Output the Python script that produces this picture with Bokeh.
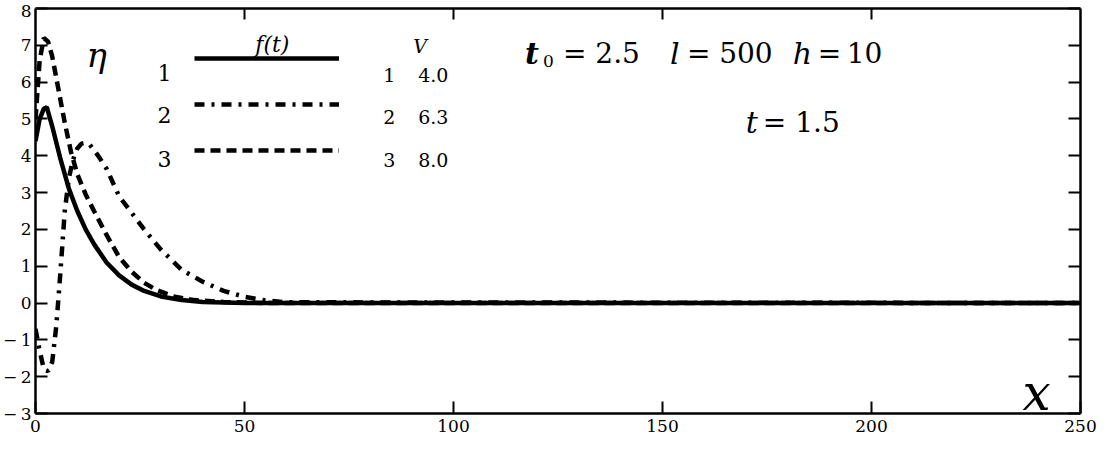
from bokeh.plotting import figure
from bokeh.models import LinearAxis, FixedTicker, Label, Legend, LegendItem, Range1d
from bokeh.core.properties import value
from bokeh.embed import file_html
from bokeh.resources import INLINE

# ---- data ----
x_curve1 = [0, 1, 2, 2.7, 4, 6, 8, 10, 12, 14, 17, 20, 23, 26, 30, 35, 40, 50, 250]
y_curve1 = [4.4, 5.0, 5.28, 5.32, 4.8, 3.9, 3.1, 2.5, 2.0, 1.6, 1.1, 0.75, 0.5, 0.33, 0.18, 0.08, 0.03, 0.0, 0.0]

x_curve2 = [0, 1, 2, 3, 4, 5, 6, 7, 8, 9, 10, 11, 12, 13, 15, 17, 20, 23, 26, 30, 35, 40, 45, 50, 55, 60, 250]
y_curve2 = [-0.7, -1.3, -1.8, -1.85, -1.6, -0.6, 0.9, 2.5, 3.4, 3.9, 4.2, 4.33, 4.35, 4.3, 4.0, 3.65, 2.9, 2.45, 2.0, 1.45, 0.9, 0.58, 0.33, 0.17, 0.07, 0.02, 0.0]

x_curve3 = [0, 1, 2, 3, 4, 5, 6, 7, 8.5, 10, 12, 14, 17, 20, 23, 26, 29, 33, 38, 45, 55, 250]
y_curve3 = [5.0, 6.6, 7.2, 7.1, 6.7, 6.1, 5.5, 4.9, 4.1, 3.5, 2.95, 2.5, 1.85, 1.25, 0.85, 0.55, 0.35, 0.18, 0.08, 0.03, 0.0, 0.0]

curve_ids = ["1", "2", "3"]
speeds = ["4.0", "6.3", "8.0"]
x_ticks = [0, 50, 100, 150, 200, 250]
y_ticks = [-3, -2, -1, 0, 1, 2, 3, 4, 5, 6, 7, 8]

SERIF = "DejaVu Serif"

p = figure(width=1100, height=443, output_backend="svg", toolbar_location=None,
           x_range=Range1d(0, 250), y_range=Range1d(-3, 8),
           x_axis_type=None, y_axis_type=None,
           min_border_left=34, min_border_right=20, min_border_top=8, min_border_bottom=30)
p.xgrid.visible = False
p.ygrid.visible = False
p.outline_line_color = None
p.background_fill_color = "white"
p.border_fill_color = "white"


def style_axis(ax, ticks, tick_len, labels=True):
    ax.ticker = FixedTicker(ticks=ticks)
    ax.axis_line_width = 2.5
    ax.axis_line_color = "black"
    ax.major_tick_in = tick_len
    ax.major_tick_out = 0
    ax.major_tick_line_width = 2
    ax.major_tick_line_color = "black"
    ax.minor_tick_line_color = None
    if labels:
        ax.major_label_text_font = SERIF
        ax.major_label_text_font_size = "17px"
        ax.major_label_text_color = "black"
    else:
        ax.major_label_overrides = {t: "" for t in ticks}
        ax.major_label_text_font_size = "1px"
        ax.major_label_text_alpha = 0
        ax.major_label_standoff = 0


bottom = LinearAxis()
style_axis(bottom, x_ticks, 12)
bottom.major_label_standoff = 6
p.add_layout(bottom, "below")

left = LinearAxis()
style_axis(left, y_ticks, 12)
left.major_label_standoff = 4
left.major_label_overrides = {t: ("\u2212\u2009" + str(-t)) if t < 0 else str(t) for t in y_ticks}
p.add_layout(left, "left")

top = LinearAxis()
style_axis(top, x_ticks[1:-1], 11, labels=False)
p.add_layout(top, "above")

right = LinearAxis()
style_axis(right, y_ticks, 12, labels=False)
p.add_layout(right, "right")

r1 = p.line(x_curve1, y_curve1, line_color="black", line_width=4.5)
r2 = p.line(x_curve2, y_curve2, line_color="black", line_width=4.5, line_dash="10 7 3 7")
r3 = p.line(x_curve3, y_curve3, line_color="black", line_width=4.5, line_dash="10 6")

legend = Legend(items=[LegendItem(label=value(" "), renderers=[r]) for r in (r1, r2, r3)],
                location=(159, 240), glyph_width=145, glyph_height=46, label_height=46,
                spacing=0, padding=0, margin=0, border_line_color=None,
                background_fill_alpha=0, label_text_font_size="1px", label_text_alpha=0,
                label_standoff=0)
p.add_layout(legend)


# annotation positions: reference pixel -> data coordinates
def dx(px):
    return (px - 42) / 4.184


def dy(py):
    return (309 - py) / 37.45


def lab(text, px, py, size, style="normal"):
    p.add_layout(Label(x=dx(px), y=dy(py), text=text, text_font=SERIF,
                       text_font_size=f"{size}px", text_font_style=style,
                       text_color="black", text_align="left", text_baseline="alphabetic"))


lab("\u03b7", 93, 57, 34, "italic")
lab("f(t)", 262, 46, 22, "italic")
lab("V", 420, 48, 19, "italic")
for i, (cid, spd) in enumerate(zip(curve_ids, speeds)):
    base = [75, 118, 162][i]
    lab(cid, 164, base, 22)
    lab(cid, 390, base + 2, 19)
    lab(spd, 425, base + 2, 19)

lab("t", 532, 55, 30, "bold italic")
lab("0", 550, 63, 17)
lab("= 2.5", 570, 55, 28)
lab("l", 677, 55, 30, "italic")
lab("= 500", 694, 55, 28)
lab("h", 800, 55, 30, "italic")
lab("=\u200910", 825, 55, 28)
lab("t", 753, 125, 30, "italic")
lab("= 1.5", 770, 125, 28)
lab("x", 1030, 400, 50, "italic")

open("out.html", "w").write(file_html(p, INLINE))
